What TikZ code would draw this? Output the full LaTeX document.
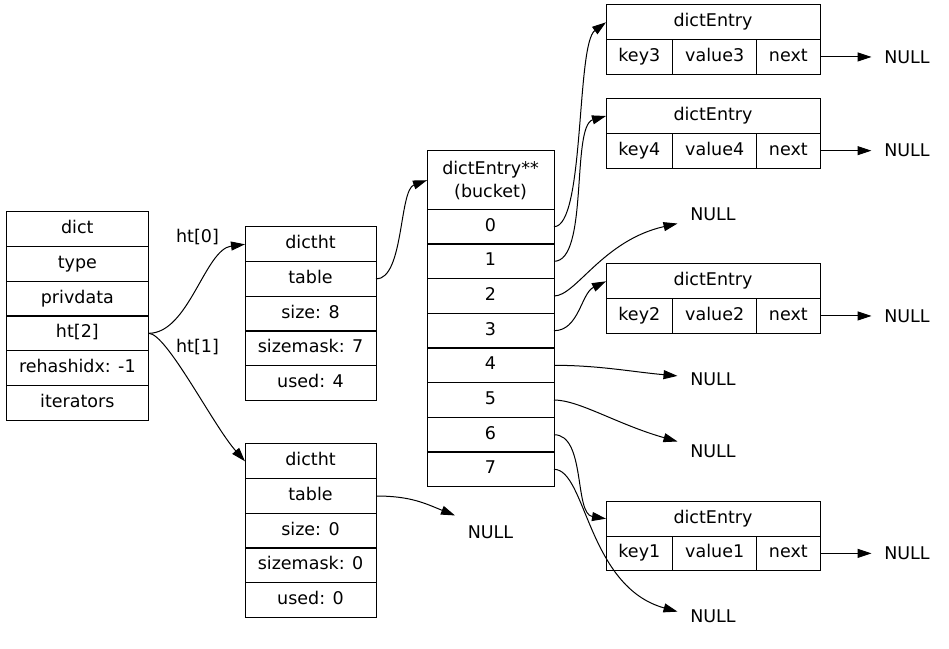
\documentclass[tikz,border=0pt]{standalone}
\usepackage{fontspec}
\setmainfont{DejaVu Sans}
\usetikzlibrary{arrows.meta}
\begin{document}
\begin{tikzpicture}[x=1pt,y=-1pt,
  font=\fontsize{17.5}{21}\selectfont,
  every node/.style={inner sep=0pt, outer sep=0pt},
  cell/.style={draw, line width=1pt, minimum height=34.67pt, text height=13pt, text depth=4pt},
  dictcell/.style={cell, minimum width=142.7pt},
  htcell/.style={cell, minimum width=131pt},
  bucketcell/.style={cell, minimum width=127pt},
  entryhead/.style={cell, minimum width=214pt},
  keycell/.style={cell, minimum width=66.7pt},
  valcell/.style={cell, minimum width=84pt},
  nextcell/.style={cell, minimum width=63.3pt},
  nullnode/.style={minimum width=71pt, minimum height=46pt},
  lbl/.style={text height=13pt, text depth=4pt},
  link/.style={draw, line width=1pt, -{Triangle[length=14pt,width=9pt]}},
]
\useasboundingbox (0,0) rectangle (949,648);

% dict structure
\node[dictcell] (dict-head) at (77.35,229.3) {dict};
\node[dictcell] (dict-type) at (77.35,264) {type};
\node[dictcell] (dict-priv) at (77.35,298.7) {privdata};
\node[dictcell] (dict-ht)   at (77.35,333.3) {ht[2]};
\node[dictcell] (dict-rh)   at (77.35,368) {rehashidx: -1};
\node[dictcell] (dict-it)   at (77.35,402.7) {iterators};

% hash table 0
\node[htcell] (ht0-head)  at (310.5,244.3) {dictht};
\node[htcell] (ht0-table) at (310.5,279) {table};
\node[htcell] (ht0-size)  at (310.5,313.7) {size: 8};
\node[htcell] (ht0-mask)  at (310.5,348.3) {sizemask: 7};
\node[htcell] (ht0-used)  at (310.5,383) {used: 4};

% hash table 1
\node[htcell] (ht1-head)  at (310.5,461.3) {dictht};
\node[htcell] (ht1-table) at (310.5,496) {table};
\node[htcell] (ht1-size)  at (310.5,530.7) {size: 0};
\node[htcell] (ht1-mask)  at (310.5,565.3) {sizemask: 0};
\node[htcell] (ht1-used)  at (310.5,600) {used: 0};

% bucket array
\node[bucketcell, minimum height=58.7pt, text height=, text depth=, align=center, font=\fontsize{17.5}{23}\selectfont]
  (bk-head) at (490.5,180.2) {dictEntry**\\(bucket)};
\foreach \i/\y in {0/226.7,1/261.3,2/296,3/330.7,4/365.3,5/400,6/434.7,7/469.3}
  \node[bucketcell] (bk-\i) at (490.5,\y) {\i};

% dict entries
\foreach \k/\y in {3/22.3,4/116,2/281.3,1/518.7}{
  \node[entryhead] (e\k-head) at (713,\y) {dictEntry};
  \node[keycell]  (e\k-key)  at (639.35,\y+34.67) {key\k};
  \node[valcell]  (e\k-val)  at (714.7,\y+34.67) {value\k};
  \node[nextcell] (e\k-next) at (788.35,\y+34.67) {next};
  \node[nullnode] (e\k-null) at (907,\y+34.67) {NULL};
  \draw[link] (e\k-next.east) -- (e\k-null.west);
}

% NULL targets of the buckets and the empty table
\node[nullnode] (null-b2) at (713,214) {NULL};
\node[nullnode] (null-b4) at (713,379) {NULL};
\node[nullnode] (null-b5) at (713,451) {NULL};
\node[nullnode] (null-b7) at (713,616) {NULL};
\node[nullnode] (null-t1) at (490.5,532) {NULL};

% edge labels
\node[lbl] (lbl-ht0) at (197.5,238) {ht[0]};
\node[lbl] (lbl-ht1) at (197.5,348) {ht[1]};

% links
\draw[link] (dict-ht.east) .. controls +(40,0) and +(-40,5) .. (ht0-head.west);
\draw[link] (dict-ht.east) .. controls +(18,0) and +(-32,-36) .. (ht1-head.west);
\draw[link] (ht0-table.east) .. controls +(28,0) and +(-28,10) .. (bk-head.west);
\draw[link] (ht1-table.east) .. controls +(35,0) and +(-30,-12) .. (null-t1.155);

\draw[link] (bk-0.east) .. controls +(31,0) and +(-30,22) .. (e3-head.west);
\draw[link] (bk-1.east) .. controls +(35,0) and +(-35,10) .. (e4-head.west);
\draw[link] (bk-2.east) .. controls +(22,0) and +(-75,17) .. (null-b2.195);
\draw[link] (bk-3.east) .. controls +(25,0) and +(-25,12) .. (e2-head.west);
\draw[link] (bk-4.east) .. controls +(45,0) and +(-45,-4) .. (null-b4.175);
\draw[link] (bk-5.east) .. controls +(25,0) and +(-60,-17) .. (null-b5.165);
\draw[link] (bk-6.east) .. controls +(32,0) and +(-32,-5) .. (e1-head.west);
\draw[link] (bk-7.east) .. controls +(32,0) and +(-90,-25) .. (null-b7.173);
\end{tikzpicture}
\end{document}
